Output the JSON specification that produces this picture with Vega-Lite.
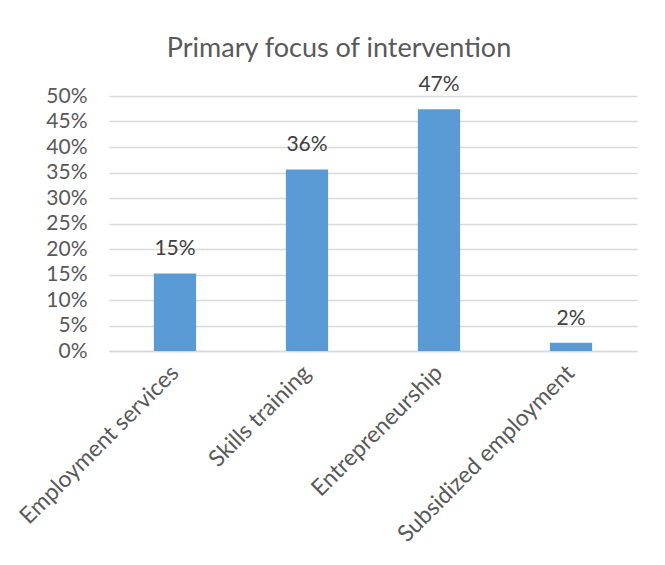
{
  "$schema": "https://vega.github.io/schema/vega-lite/v6.json",
  "autosize": "none",
  "width": 528,
  "height": 255,
  "padding": {"left": 109, "top": 96, "right": 28, "bottom": 214},
  "background": "white",
  "title": {
    "text": "Primary focus of intervention",
    "font": "Lato",
    "fontSize": 27,
    "fontWeight": "normal",
    "color": "#595959",
    "anchor": "middle",
    "frame": "group",
    "dx": -34,
    "offset": 11
  },
  "data": {
    "values": [
      {"focus": "Employment services", "share": 0.152},
      {"focus": "Skills training", "share": 0.356},
      {"focus": "Entrepreneurship", "share": 0.474},
      {"focus": "Subsidized employment", "share": 0.016}
    ]
  },
  "encoding": {
    "x": {
      "field": "focus",
      "type": "nominal",
      "sort": null,
      "scale": {"paddingInner": 0.68, "paddingOuter": 0.34},
      "axis": {
        "title": null,
        "labelAngle": -45,
        "labelAlign": "right",
        "labelBaseline": "middle",
        "labelFont": "Lato",
        "labelFontSize": 23,
        "labelColor": "#595959",
        "labelPadding": 18,
        "labelLimit": 400,
        "ticks": false,
        "domainColor": "#d9d9d9",
        "domainWidth": 1.5,
        "grid": false
      }
    },
    "y": {
      "field": "share",
      "type": "quantitative",
      "scale": {"domain": [0, 0.5], "nice": false},
      "axis": {
        "title": null,
        "values": [0, 0.05, 0.1, 0.15, 0.2, 0.25, 0.3, 0.35, 0.4, 0.45, 0.5],
        "format": ".0%",
        "labelFont": "Lato",
        "labelFontSize": 21,
        "labelColor": "#595959",
        "labelPadding": 22,
        "ticks": false,
        "domain": false,
        "gridColor": "#d9d9d9",
        "gridWidth": 1.5
      }
    }
  },
  "layer": [
    {"mark": {"type": "bar", "color": "#5b9bd5"}},
    {
      "mark": {
        "type": "text",
        "font": "Lato",
        "fontSize": 21,
        "color": "#404040",
        "baseline": "alphabetic",
        "dy": -18
      },
      "encoding": {"text": {"field": "share", "type": "quantitative", "format": ".0%"}}
    }
  ],
  "config": {"view": {"stroke": null}}
}
